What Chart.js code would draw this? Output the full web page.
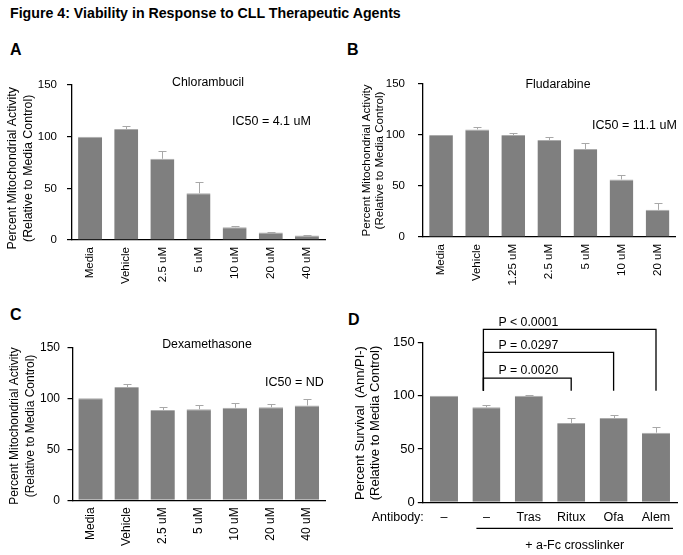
<!DOCTYPE html>
<html>
<head>
<meta charset="utf-8">
<script src="https://cdn.jsdelivr.net/npm/chart.js@4.4.1/dist/chart.umd.min.js"></script>
<style>
  body { margin: 0; background: #fff; width: 683px; height: 555px; position: relative; overflow: hidden;
         font-family: "Liberation Sans", Arial, sans-serif; color: #000; }
  .fig-title { position: absolute; left: 10px; top: 6px; font-weight: bold; font-size: 14.2px; line-height: 1; white-space: nowrap; }
  .letter { position: absolute; font-weight: bold; font-size: 16px; line-height: 1; }
  canvas { position: absolute; }
</style>
</head>
<body>
<div class="fig-title">Figure 4: Viability in Response to CLL Therapeutic Agents</div>
<div class="letter" style="left:10px;top:41.5px">A</div>
<div class="letter" style="left:347px;top:41.5px">B</div>
<div class="letter" style="left:10px;top:307px">C</div>
<div class="letter" style="left:348px;top:311.5px">D</div>

<canvas id="chartA" width="341" height="270" style="left:0;top:30px"></canvas>
<canvas id="chartB" width="342" height="270" style="left:341px;top:30px"></canvas>
<canvas id="chartC" width="341" height="255" style="left:0;top:300px"></canvas>
<canvas id="chartD" width="342" height="255" style="left:341px;top:300px"></canvas>

<script>
// values (percent of media control)
const yTicks = [0, 50, 100, 150];

const chlorambucilLabels = ['Media', 'Vehicle', '2.5 uM', '5 uM', '10 uM', '20 uM', '40 uM'];
const chlorambucilMeans = [100, 107.4, 78.6, 45.2, 12.4, 7.2, 4.3];
const chlorambucilErrors = [0, 2.6, 7.9, 10.8, 1.4, 0.7, 0.6];

const fludarabineLabels = ['Media', 'Vehicle', '1.25 uM', '2.5 uM', '5 uM', '10 uM', '20 uM'];
const fludarabineMeans = [100, 105.5, 100, 95, 86.3, 56.4, 26.6];
const fludarabineErrors = [0, 2.2, 1.9, 3.2, 5.9, 4.6, 7.1];

const dexamethasoneLabels = ['Media', 'Vehicle', '2.5 uM', '5 uM', '10 uM', '20 uM', '40 uM'];
const dexamethasoneMeans = [100, 111, 88.6, 89.2, 90.8, 91.2, 93];
const dexamethasoneErrors = [0, 2.7, 2.6, 3.8, 4.2, 3.6, 6.7];

const antibodyLabels = ['\u2013', '\u2013', 'Tras', 'Ritux', 'Ofa', 'Alem'];
const survivalMeans = [100, 89, 100, 74.4, 79, 65.3];
const survivalErrors = [0, 2, 1, 4.4, 3.2, 5];

// significance brackets in panel D (from bar 1 to target bar)
const bracketFrom = 1;
const bracketTargets = [3, 4, 5];
const bracketLevels = [116.5, 140.6, 162.2];
const bracketBase = 104.6;
const bracketLabels = ['P = 0.0020', 'P = 0.0297', 'P < 0.0001'];

Chart.defaults.font.family = '"Liberation Sans", Arial, sans-serif';
Chart.defaults.color = '#000';

const FONT = '"Liberation Sans", Arial, sans-serif';

// plus-only error bars drawn through the y scale
const errorBars = {
  id: 'errorBars',
  afterDatasetsDraw(chart, args, opts) {
    const meta = chart.getDatasetMeta(0);
    const values = chart.data.datasets[0].data;
    const y = chart.scales.y;
    const ctx = chart.ctx;
    ctx.save();
    ctx.strokeStyle = '#a8a8a8';
    ctx.lineWidth = 1;
    meta.data.forEach((bar, i) => {
      const e = opts.errors[i];
      if (!e) return;
      const top = Math.round(y.getPixelForValue(values[i] + e)) + 0.5;
      const x = Math.round(bar.x) + 0.5;
      ctx.beginPath();
      ctx.moveTo(x, bar.y);
      ctx.lineTo(x, top);
      ctx.moveTo(x - 4, top);
      ctx.lineTo(x + 4, top);
      ctx.stroke();
    });
    ctx.restore();
  }
};

// free text: titles, IC50, rotated axis titles
const notes = {
  id: 'notes',
  afterDraw(chart, args, opts) {
    const ctx = chart.ctx;
    ctx.save();
    ctx.fillStyle = '#000';
    ctx.textBaseline = 'middle';
    (opts.items || []).forEach(it => {
      ctx.save();
      ctx.font = (it.size || 12.3) + 'px ' + FONT;
      ctx.textAlign = it.align || 'center';
      ctx.translate(it.x, it.y);
      if (it.rotate) ctx.rotate(-Math.PI / 2);
      ctx.fillText(it.text, 0, 0);
      ctx.restore();
    });
    ctx.restore();
  }
};

// panel D extras: p-value brackets, "Antibody:" and crosslinker bar
const panelD = {
  id: 'panelD',
  afterDraw(chart) {
    const meta = chart.getDatasetMeta(0);
    const y = chart.scales.y;
    const ctx = chart.ctx;
    const area = chart.chartArea;
    ctx.save();
    ctx.strokeStyle = '#000';
    ctx.fillStyle = '#000';
    ctx.lineWidth = 1.3;
    const x0 = meta.data[bracketFrom].x - 3;
    const base = y.getPixelForValue(bracketBase);
    ctx.font = '12.3px ' + FONT;
    ctx.textAlign = 'left';
    ctx.textBaseline = 'middle';
    bracketTargets.forEach((t, i) => {
      const top = y.getPixelForValue(bracketLevels[i]);
      const x1 = meta.data[t].x;
      ctx.beginPath();
      ctx.moveTo(x0, base);
      ctx.lineTo(x0, top);
      ctx.lineTo(x1, top);
      ctx.lineTo(x1, base);
      ctx.stroke();
      ctx.fillText(bracketLabels[i], x0 + 15, top - 7);
    });
    // antibody row label
    ctx.font = '12.5px ' + FONT;
    ctx.textAlign = 'right';
    ctx.fillText('Antibody:', area.left + 1, area.bottom + 15);
    // crosslinker underline
    const b1 = meta.data[1], b5 = meta.data[5];
    const lx0 = b1.x - b1.width / 2 + 4;
    const lx1 = b5.x + b5.width / 2 + 3;
    const ly = area.bottom + 26;
    ctx.lineWidth = 1.3;
    ctx.beginPath();
    ctx.moveTo(lx0, ly);
    ctx.lineTo(lx1, ly);
    ctx.stroke();
    ctx.textAlign = 'center';
    ctx.fillText('+ a-Fc crosslinker', (lx0 + lx1) / 2, area.bottom + 43);
    ctx.restore();
  }
};

function makePanel(id, p) {
  return new Chart(document.getElementById(id), {
    type: 'bar',
    data: {
      labels: p.labels,
      datasets: [{
        data: p.values,
        backgroundColor: '#7f7f7f',
        borderColor: '#ababab',
        borderWidth: { top: 1, left: 0, right: 0, bottom: 0 },
        barPercentage: p.barPct,
        categoryPercentage: 1
      }]
    },
    options: {
      responsive: false,
      animation: false,
      layout: { padding: p.padding },
      plugins: {
        legend: { display: false },
        tooltip: { enabled: false },
        errorBars: { errors: p.errors },
        notes: { items: p.notes }
      },
      scales: {
        x: {
          offset: true,
          grid: { display: false, drawTicks: false },
          border: { display: true, color: '#000', width: 1.3 },
          ticks: {
            font: { size: p.xFont },
            padding: p.xPad,
            minRotation: p.rotate ? 90 : 0,
            maxRotation: p.rotate ? 90 : 0,
            autoSkip: false
          },
          afterFit: s => { s.height = p.xHeight; }
        },
        y: {
          min: 0,
          max: 150,
          afterBuildTicks: s => { s.ticks = yTicks.map(v => ({ value: v })); },
          grid: { display: true, drawOnChartArea: false, drawTicks: true, tickLength: 5, color: '#000', lineWidth: 1.2 },
          border: { display: true, color: '#000', width: 1.3 },
          ticks: { font: { size: p.yFont }, padding: p.yPad },
          afterFit: s => { s.width = p.yWidth; }
        }
      }
    },
    plugins: p.extra ? [errorBars, notes, p.extra] : [errorBars, notes]
  });
}

const yTitle1 = 'Percent Mitochondrial Activity';
const yTitle2 = '(Relative to Media Control)';

makePanel('chartA', {
  labels: chlorambucilLabels, values: chlorambucilMeans, errors: chlorambucilErrors,
  barPct: 0.664, padding: { left: 4, right: 16, top: 55, bottom: 0 },
  yWidth: 68, xHeight: 60, xFont: 11.5, xPad: 7, yFont: 11.5, yPad: 10, rotate: true,
  notes: [
    { text: 'Chlorambucil', x: 208, y: 53 },
    { text: 'IC50 = 4.1 uM', x: 232, y: 92, align: 'left', size: 12.5 },
    { text: yTitle1, x: 12.3, y: 138.3, rotate: true, size: 12.4 },
    { text: yTitle2, x: 28.3, y: 138.3, rotate: true, size: 12.4 }
  ]
});

makePanel('chartB', {
  labels: fludarabineLabels, values: fludarabineMeans, errors: fludarabineErrors,
  barPct: 0.657, padding: { left: 10, right: 7.4, top: 54, bottom: 0 },
  yWidth: 72, xHeight: 63, xFont: 11.5, xPad: 7, yFont: 11.5, yPad: 13, rotate: true,
  notes: [
    { text: 'Fludarabine', x: 217, y: 55 },
    { text: 'IC50 = 11.1 uM', x: 251, y: 96, align: 'left', size: 12.5 },
    { text: yTitle1, x: 25.5, y: 130.5, rotate: true, size: 11.6 },
    { text: yTitle2, x: 38.5, y: 130.5, rotate: true, size: 11.6 }
  ]
});

makePanel('chartC', {
  labels: dexamethasoneLabels, values: dexamethasoneMeans, errors: dexamethasoneErrors,
  barPct: 0.675, padding: { left: 4, right: 16, top: 47.3, bottom: 0 },
  yWidth: 68.5, xHeight: 54.7, xFont: 12, xPad: 7, yFont: 12, yPad: 7.5, rotate: true,
  notes: [
    { text: 'Dexamethasone', x: 207, y: 45 },
    { text: 'IC50 = ND', x: 265, y: 83, align: 'left', size: 12.5 },
    { text: yTitle1, x: 15, y: 126, rotate: true, size: 12 },
    { text: yTitle2, x: 31, y: 126, rotate: true, size: 12 }
  ]
});

makePanel('chartD', {
  labels: antibodyLabels, values: survivalMeans, errors: survivalErrors,
  barPct: 0.66, padding: { left: 10, right: 5.8, top: 42.3, bottom: 0 },
  yWidth: 71.8, xHeight: 52.7, xFont: 12.5, xPad: 8, yFont: 13, yPad: 3, rotate: false,
  notes: [
    { text: 'Percent Survival  (Ann/PI-)', x: 19, y: 123, rotate: true, size: 13 },
    { text: yTitle2, x: 34, y: 123, rotate: true, size: 13 }
  ],
  extra: panelD
});
</script>
</body>
</html>
